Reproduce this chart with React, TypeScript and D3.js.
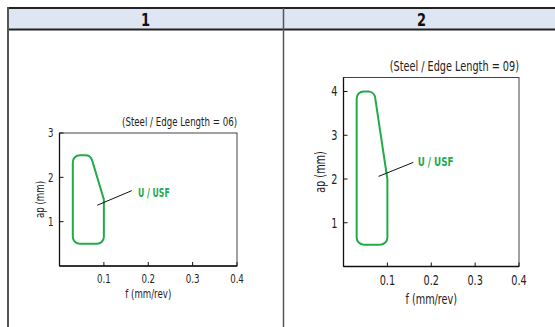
import React from "react";
import * as d3 from "d3";

const W = 555;
const H = 327;

const headers = ["1", "2"];
const xTicks = [0.1, 0.2, 0.3, 0.4];
const yTicks1 = [1, 2, 3];
const yTicks2 = [1, 2, 3, 4];

const titles = ["(Steel / Edge Length = 06)", "(Steel / Edge Length = 09)"];
const regionLabel = "U / USF";

// chart 1 region polygon (f, ap)
const region1F = [0.03, 0.03, 0.07, 0.1, 0.1];
const region1Ap = [0.5, 2.5, 2.5, 1.5, 0.5];
// chart 2 region polygon
const region2F = [0.03, 0.03, 0.07, 0.1, 0.1];
const region2Ap = [0.5, 4.0, 4.0, 2.0, 0.5];

// leader lines [start, end] and label anchor
const leader1F = [0.085, 0.163];
const leader1Ap = [1.37, 1.7];
const label1 = [0.177, 1.56];
const leader2F = [0.08, 0.159];
const leader2Ap = [2.06, 2.38];
const label2 = [0.169, 2.29];

const GREEN = "#21ab4a";
const FONT = "'Liberation Sans Narrow', 'DejaVu Sans Condensed', 'Roboto Condensed', sans-serif";
const SX = 0.8;

function roundedPath(pts: [number, number][], r: number) {
  const p = d3.path();
  const n = pts.length;
  const m0: [number, number] = [(pts[0][0] + pts[1][0]) / 2, (pts[0][1] + pts[1][1]) / 2];
  p.moveTo(m0[0], m0[1]);
  for (let i = 1; i <= n; i++) {
    const v = pts[i % n];
    const nx = pts[(i + 1) % n];
    p.arcTo(v[0], v[1], nx[0], nx[1], r);
  }
  p.closePath();
  return p.toString();
}

function CText(props: any) {
  const { x, y, rotate, sx, children, ...rest } = props;
  const tr = `translate(${x},${y})` + (rotate ? ` rotate(${rotate})` : "") + ` scale(${sx ?? SX},1)`;
  return (
    <text transform={tr} {...rest}>{children}</text>
  );
}

type ChartProps = {
  left: number; right: number; top: number; bottom: number;
  yMax: number; yTicks: number[];
  regF: number[]; regAp: number[];
  leadF: number[]; leadAp: number[]; label: number[];
  title: string; fs: number; lfs: number;
  yLabelX: number; tickLabelDy: number; xLabelY: number;
};

function Chart(props: ChartProps) {
  const { left, right, top, bottom, yMax, yTicks, regF, regAp, leadF, leadAp, label, title, fs, lfs, yLabelX, tickLabelDy, xLabelY } = props;
  const x = d3.scaleLinear().domain([0, 0.4]).range([left, right]);
  const y = d3.scaleLinear().domain([0, yMax]).range([bottom, top]);
  const pts: [number, number][] = regF.map((f, i) => [x(f), y(regAp[i])]);
  const fmt = d3.format(".1f");
  return (
    <g fontFamily={FONT}>
      <CText x={right} y={top - 7} textAnchor="end" fontSize={fs} fill="#222">{title}</CText>
      <rect x={left} y={top} width={right - left} height={bottom - top} fill="none" stroke="#444" strokeWidth={1} />
      <line x1={left} y1={top} x2={left} y2={bottom} stroke="#111" strokeWidth={1.3} />
      <line x1={left} y1={bottom} x2={right} y2={bottom} stroke="#111" strokeWidth={1.3} />
      {xTicks.map((t) => (
        <g key={"x" + t}>
          <line x1={x(t)} x2={x(t)} y1={bottom} y2={bottom - 4} stroke="#111" strokeWidth={1} />
          <CText x={x(t)} y={bottom + tickLabelDy} textAnchor="middle" fontSize={fs} fill="#222">{fmt(t)}</CText>
        </g>
      ))}
      {yTicks.map((t) => (
        <g key={"y" + t}>
          <line x1={left} x2={left + 4} y1={y(t)} y2={y(t)} stroke="#111" strokeWidth={1} />
          <CText x={left - 6} y={y(t)} dy="0.36em" textAnchor="end" fontSize={fs} fill="#222">{t}</CText>
        </g>
      ))}
      <CText x={(left + right) / 2} y={xLabelY} textAnchor="middle" fontSize={fs} fill="#222">f (mm/rev)</CText>
      <CText x={yLabelX} y={(top + bottom) / 2} rotate={-90} textAnchor="middle" dy="0.36em" fontSize={fs} fill="#222">ap (mm)</CText>
      <path d={roundedPath(pts, 7)} fill="none" stroke={GREEN} strokeWidth={2} />
      <line x1={x(leadF[0])} y1={y(leadAp[0])} x2={x(leadF[1])} y2={y(leadAp[1])} stroke="#111" strokeWidth={1} />
      <CText x={x(label[0])} y={y(label[1])} sx={0.75} fontSize={lfs} fill={GREEN} fontWeight="bold">{regionLabel}</CText>
    </g>
  );
}

export default function App() {
  const divX = 283.5;
  return (
    <svg width={W} height={H} style={{ position: "absolute", left: 0, top: 0, background: "#fff" }}>
      <rect x={8} y={8} width={W} height={21.5} fill="#dfe6f3" />
      <line x1={8} x2={W} y1={8} y2={8} stroke="#222" strokeWidth={2} />
      <line x1={8} x2={W} y1={29.5} y2={29.5} stroke="#222" strokeWidth={2} />
      <line x1={8} x2={8} y1={7} y2={H} stroke="#555" strokeWidth={2} />
      <line x1={divX} x2={divX} y1={8} y2={H} stroke="#555" strokeWidth={1.5} />
      <CText x={145.5} y={26} sx={0.85} textAnchor="middle" fontFamily={FONT} fontWeight="bold" fontSize={17} fill="#111">{headers[0]}</CText>
      <CText x={421.5} y={26} sx={0.85} textAnchor="middle" fontFamily={FONT} fontWeight="bold" fontSize={17} fill="#111">{headers[1]}</CText>
      <Chart left={59.5} right={237} top={133} bottom={266} yMax={3} yTicks={yTicks1}
        regF={region1F} regAp={region1Ap} leadF={leader1F} leadAp={leader1Ap} label={label1}
        title={titles[0]} fs={12} lfs={11.5} yLabelX={40} tickLabelDy={16.5} xLabelY={297.5} />
      <Chart left={343.5} right={519} top={77.5} bottom={266.5} yMax={4.32} yTicks={yTicks2}
        regF={region2F} regAp={region2Ap} leadF={leader2F} leadAp={leader2Ap} label={label2}
        title={titles[1]} fs={13.5} lfs={13} yLabelX={320.5} tickLabelDy={18} xLabelY={303.5} />
    </svg>
  );
}
